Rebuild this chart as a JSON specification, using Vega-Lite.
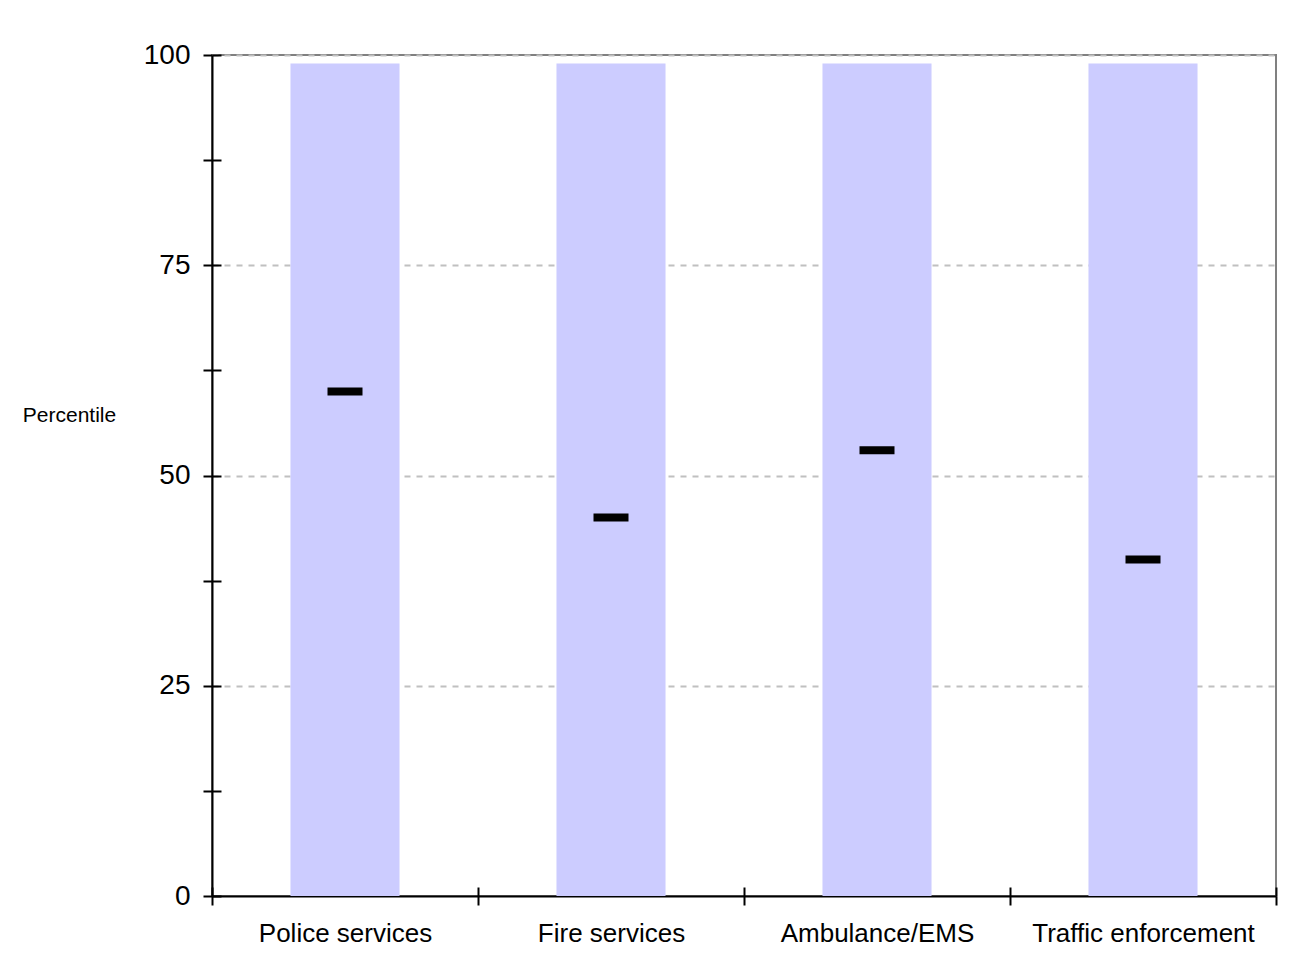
{
  "$schema": "https://vega.github.io/schema/vega-lite/v6.json",
  "autosize": "none",
  "width": 1064,
  "height": 841,
  "padding": {"left": 212, "top": 55, "right": 18, "bottom": 70},
  "background": "white",
  "config": {
    "font": "Liberation Sans",
    "view": {"stroke": "#808080", "strokeWidth": 2},
    "axis": {"labelFont": "Liberation Sans", "titleFont": "Liberation Sans", "labelColor": "black", "titleColor": "black"}
  },
  "data": {
    "values": [
      {"service": "Police services", "top": 99, "percentile": 60},
      {"service": "Fire services", "top": 99, "percentile": 45},
      {"service": "Ambulance/EMS", "top": 99, "percentile": 53},
      {"service": "Traffic enforcement", "top": 99, "percentile": 40}
    ]
  },
  "encoding": {
    "x": {
      "field": "service",
      "type": "nominal",
      "sort": null,
      "scale": {"paddingInner": 0, "paddingOuter": 0}
    }
  },
  "layer": [
    {
      "mark": {"type": "bar", "color": "#ccccff", "width": {"band": 0.41}},
      "encoding": {
        "x": {
          "field": "service",
          "type": "nominal",
          "sort": null,
          "axis": {
            "title": null,
            "orient": "bottom",
            "tickBand": "extent",
            "domainColor": "black",
            "domainWidth": 2,
            "tickColor": "black",
            "tickWidth": 2,
            "tickSize": 9,
            "labelAngle": 0,
            "labelFontSize": 26,
            "labelPadding": 15,
            "labelLimit": 0,
            "grid": false
          }
        },
        "y": {
          "field": "top",
          "type": "quantitative",
          "scale": {"domain": [0, 100], "nice": false},
          "axis": {
            "title": "Percentile",
            "titleAngle": 0,
            "titleFontSize": 21,
            "titleFontWeight": "normal",
            "titleX": -143,
            "titleY": 360,
            "titleAlign": "center",
            "titleBaseline": "middle",
            "values": [0, 12.5, 25, 37.5, 50, 62.5, 75, 87.5, 100],
            "labelExpr": "datum.value % 25 == 0 ? datum.label : ''",
            "labelFontSize": 28,
            "labelPadding": 13,
            "domainColor": "black",
            "domainWidth": 2,
            "tickColor": "black",
            "tickWidth": 2,
            "tickSize": 9,
            "grid": true,
            "gridColor": "#c0c0c0",
            "gridWidth": 2,
            "gridDash": [6, 6],
            "gridOpacity": {"condition": {"test": "datum.value % 25 == 0 && datum.value > 0", "value": 1}, "value": 0}
          }
        }
      }
    },
    {
      "mark": {"type": "tick", "color": "black", "opacity": 1, "size": 35, "thickness": 8},
      "encoding": {
        "x": {
          "field": "service",
          "type": "nominal",
          "sort": null,
          "axis": {
            "title": null,
            "orient": "bottom",
            "offset": -9,
            "tickBand": "extent",
            "domain": false,
            "labels": false,
            "tickColor": "black",
            "tickWidth": 2,
            "tickSize": 9,
            "grid": false
          }
        },
        "y": {
          "field": "percentile",
          "type": "quantitative",
          "axis": {
            "title": null,
            "orient": "left",
            "offset": -9,
            "values": [0, 12.5, 25, 37.5, 50, 62.5, 75, 87.5, 100],
            "domain": false,
            "labels": false,
            "tickColor": "black",
            "tickWidth": 2,
            "tickSize": 9,
            "grid": false
          }
        }
      }
    }
  ],
  "resolve": {"axis": {"x": "independent", "y": "independent"}}
}
